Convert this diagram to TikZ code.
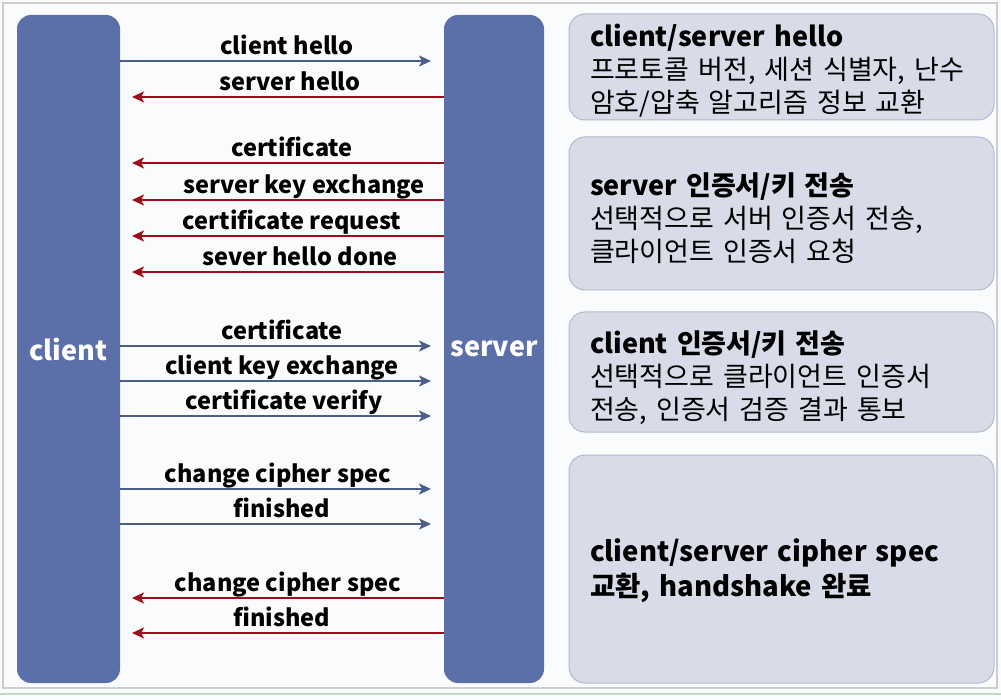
\documentclass[tikz,border=0pt]{standalone}
\usepackage{fontspec}
\setmainfont{Noto Sans CJK KR}
\usetikzlibrary{arrows.meta}
\definecolor{barblue}{RGB}{91,112,168}
\definecolor{arrblue}{RGB}{74,94,140}
\definecolor{arrred}{RGB}{158,14,26}
\definecolor{boxfill}{RGB}{217,220,232}
\definecolor{boxline}{RGB}{178,184,206}
\definecolor{framegray}{RGB}{205,205,208}
\definecolor{bgcol}{RGB}{250,251,253}
\definecolor{greenline}{RGB}{190,222,190}
\begin{document}
\begin{tikzpicture}[x=1pt,y=-1pt,
  bar/.style={fill=barblue, draw=none, rounded corners=14pt, inner sep=0pt, outer sep=0pt,
    minimum height=668pt, text=white, font=\fontsize{27}{30}\selectfont\bfseries},
  infobox/.style={fill=boxfill, draw=boxline, line width=1pt, rounded corners=16pt,
    inner xsep=21pt, inner ysep=0pt, outer sep=0pt, minimum width=425pt, text width=383pt,
    align=left, font=\fontsize{27}{33}\selectfont},
  boxtext/.style={infobox, draw=none, fill=none, anchor=west},
  msg/.style={font=\fontsize{23.5}{26}\selectfont\bfseries, anchor=base, inner sep=0pt},
  c2s/.style={draw=arrblue, line width=2.2pt, -{Stealth[length=12pt,width=11pt,inset=3pt]}},
  s2c/.style={draw=arrred, line width=2.8pt, -{Stealth[length=12pt,width=11pt,inset=3pt]}}]
\useasboundingbox (0,0) rectangle (1001,700);
\fill[bgcol] (0,0) rectangle (1001,700);
\draw[framegray, line width=1.2pt] (3,3) rectangle (997,688);
\draw[greenline, line width=2pt] (0,694) -- (1001,694);

% lifelines
\node[bar, minimum width=103pt, anchor=north west] (client) at (17,15) {client};
\node[bar, minimum width=100pt, anchor=north west] (server) at (444,15) {server};

% info boxes
\node[infobox, minimum height=106pt] (b1) at (781.5,67) {};
\node[infobox, minimum height=153pt] (b2) at (781.5,213.5) {};
\node[infobox, minimum height=120pt] (b3) at (781.5,372) {};
\node[infobox, minimum height=228pt] (b4) at (781.5,569) {};

\node[boxtext] (t1) at (569,71)
  {{\bfseries client/server hello}\\
   프로토콜 버전, 세션 식별자, 난수\\
   암호/압축 알고리즘 정보 교환};
\node[boxtext] (t2) at (569,218.5)
  {{\bfseries server 인증서/키 전송}\\
   선택적으로 서버 인증서 전송,\\
   클라이언트 인증서 요청};
\node[boxtext] (t3) at (569,378)
  {{\bfseries client 인증서/키 전송}\\
   선택적으로 클라이언트 인증서\\
   전송, 인증서 검증 결과 통보};
\node[boxtext, font=\fontsize{27.5}{35}\selectfont\bfseries] (t4) at (569,570.5)
  {client/server cipher spec\\
   교환, handshake 완료};

% client -> server messages
\foreach \y/\lx/\txt in {61/287/client hello, 346/282/certificate,
    381/282/client key exchange, 416/284/certificate verify,
    489/278/change cipher spec, 524/282/finished}{
  \draw[c2s] ([yshift={(15-\y)*1pt}]client.north east) -- ([yshift={(15-\y)*1pt},xshift=-13pt]server.north west);
  \node[msg] at (\lx,\y-6.5) {\txt};
}
% server -> client messages
\foreach \y/\lx/\txt in {97/290/server hello, 163/292/certificate,
    200/304/server key exchange, 236/292/certificate request,
    272/300/sever hello done, 598/288/change cipher spec, 633/282/finished}{
  \draw[s2c] ([yshift={(15-\y)*1pt}]server.north west) -- ([yshift={(15-\y)*1pt},xshift=12pt]client.north east);
  \node[msg] at (\lx,\y-6.5) {\txt};
}
\end{tikzpicture}
\end{document}
